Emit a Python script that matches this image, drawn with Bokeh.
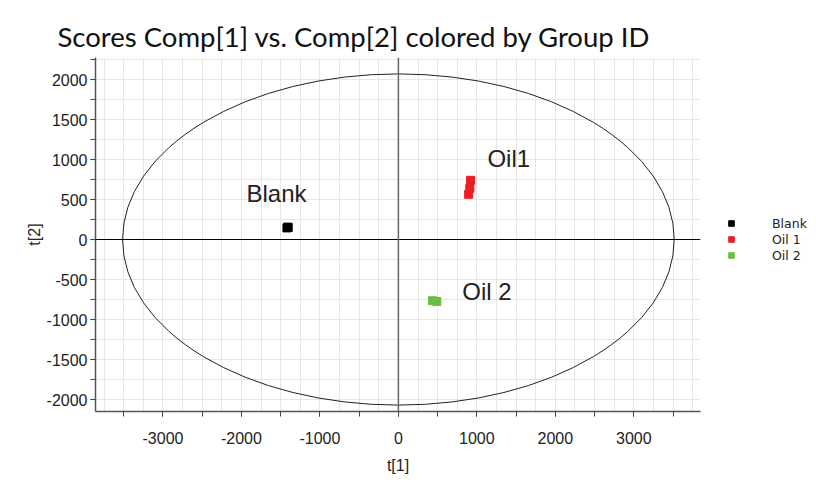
from bokeh.plotting import figure
from bokeh.models import (Range1d, Span, Label, SingleIntervalTicker, Legend, LegendItem,
                          NumeralTickFormatter)
from bokeh.embed import file_html
from bokeh.resources import INLINE

# ---- data ----
groups = ["Blank", "Oil 1", "Oil 2"]
colors = ["#000000", "#ee1d24", "#6cbd45"]
blank_t1 = [-1420, -1410, -1405]
blank_t2 = [145, 155, 150]
oil1_t1 = [920, 910, 895]
oil1_t2 = [740, 640, 565]
oil2_t1 = [435, 490]
oil2_t2 = [-765, -775]
ellipse_t1_half = 3515
ellipse_t2_half = 2070
x_ticks_major = 1000
y_ticks_major = 500
grid_step = 250
title_text = "Scores Comp[1] vs. Comp[2] colored by Group ID"

p = figure(frame_width=605, frame_height=354, output_backend="svg", toolbar_location=None,
           x_range=Range1d(-3860, 3850), y_range=Range1d(-2150, 2275),
           min_border_left=95, min_border_right=100, min_border_top=57, min_border_bottom=56,
           title=title_text)
p.outline_line_color = None
p.background_fill_color = "white"

# title
p.title.text_font = "Lato"
p.title.text_font_size = "27.5px"
p.title.text_font_style = "normal"
p.title.text_color = "#111111"
p.title.align = "left"
p.title.offset = -38
p.title.standoff = 10

# grid
for g in (p.xgrid, p.ygrid):
    g.ticker = SingleIntervalTicker(interval=grid_step)
    g.grid_line_color = "#e6e6e6"
    g.grid_line_width = 1

# axes
p.xaxis.ticker = SingleIntervalTicker(interval=x_ticks_major, num_minor_ticks=2)
p.yaxis.ticker = SingleIntervalTicker(interval=y_ticks_major, num_minor_ticks=2)
p.xaxis.formatter = NumeralTickFormatter(format="0")
p.yaxis.formatter = NumeralTickFormatter(format="0")
p.xaxis.axis_label = "t[1]"
p.yaxis.axis_label = "t[2]"
for ax in (p.xaxis, p.yaxis):
    ax.axis_line_color = "#555555"
    ax.axis_line_width = 1.5
    ax.major_tick_line_color = "#444444"
    ax.minor_tick_line_color = "#444444"
    ax.major_tick_out = 5
    ax.major_tick_in = 0
    ax.minor_tick_out = 5
    ax.minor_tick_in = 0
    ax.major_label_text_font = "Liberation Sans"
    ax.major_label_text_font_size = "16px"
    ax.major_label_text_color = "#222222"
    ax.axis_label_text_font = "Liberation Sans"
    ax.axis_label_text_font_size = "16px"
    ax.axis_label_text_font_style = "normal"
    ax.axis_label_text_color = "#222222"
p.xaxis.major_label_standoff = 15
p.xaxis.axis_label_standoff = 10
p.yaxis.major_label_standoff = 3
p.yaxis.axis_label_standoff = 1

# zero lines
p.add_layout(Span(location=0, dimension="width", line_color="black", line_width=1))
p.add_layout(Span(location=0, dimension="height", line_color="#666666", line_width=1.5))

# ellipse
p.ellipse(x=[0], y=[0], width=[2 * ellipse_t1_half], height=[2 * ellipse_t2_half],
          fill_color=None, line_color="#222222", line_width=1)

# points
r_blank = p.scatter(blank_t1, blank_t2, marker="square", size=8, color=colors[0])
r_oil1 = p.scatter(oil1_t1, oil1_t2, marker="square", size=8, color=colors[1])
r_oil2 = p.scatter(oil2_t1, oil2_t2, marker="square", size=8, color=colors[2])

# group text labels
for txt, x, y in [("Blank", -1936, 575), ("Oil1", 1134, 1012), ("Oil 2", 815, -650)]:
    p.add_layout(Label(x=x, y=y, text=txt, text_font="Liberation Sans",
                       text_font_size="24px", text_color="#222222",
                       text_baseline="middle", text_align="left"))

# legend (in right side panel)
legend = Legend(items=[LegendItem(label=groups[0], renderers=[r_blank]),
                       LegendItem(label=groups[1], renderers=[r_oil1]),
                       LegendItem(label=groups[2], renderers=[r_oil2])],
                location=(24, 148))
legend.glyph_width = 14
legend.glyph_height = 16
legend.label_height = 16
legend.spacing = 0
legend.padding = 0
legend.margin = 0
legend.label_standoff = 34
legend.label_text_font = "DejaVu Sans"
legend.label_text_font_size = "12.5px"
legend.label_text_color = "#222222"
legend.border_line_color = None
legend.background_fill_alpha = 0
p.add_layout(legend, "right")

open("out.html", "w").write(file_html(p, INLINE))
